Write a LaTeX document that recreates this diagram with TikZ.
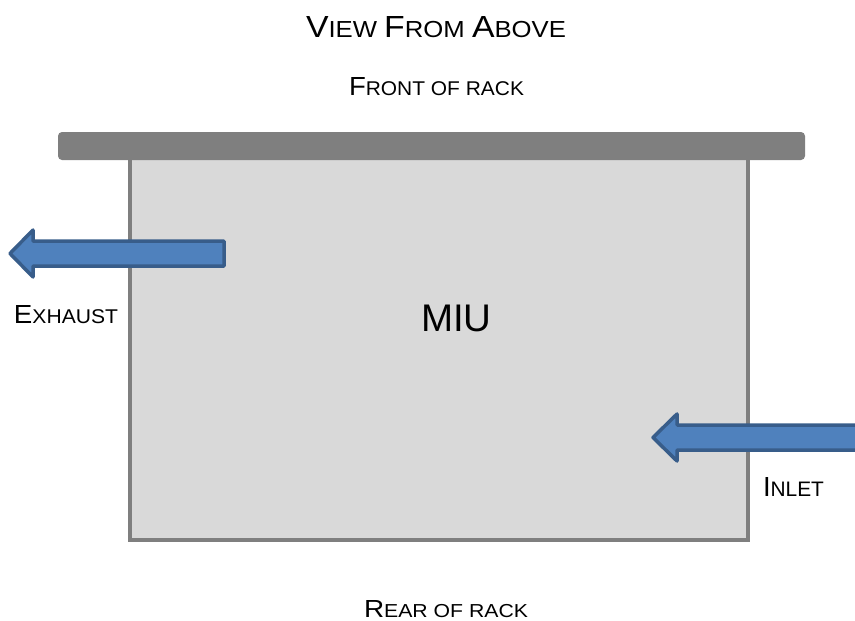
\documentclass[tikz,border=0pt]{standalone}
\usepackage{fontspec}
\setmainfont{Liberation Sans}
\usepackage{graphicx}
\definecolor{rackgray}{HTML}{7F7F7F}
\definecolor{miufill}{HTML}{D9D9D9}
\definecolor{arrowfill}{HTML}{4F81BD}
\definecolor{arrowline}{HTML}{385D8A}
\newcommand\scw[2]{{\fontsize{20}{20}\selectfont #1}{\fontsize{15.2}{15.2}\selectfont #2}}
\begin{document}
\begin{tikzpicture}[x=1pt,y=-1pt,
  lbl/.style={inner sep=0pt,outer sep=0pt,anchor=base west,font=\fontsize{15.2}{15.2}\selectfont},
  flow/.style={fill=arrowfill,draw=arrowline,line width=3.5pt,line join=round}]
\useasboundingbox (0,0) rectangle (855,621);
\clip (0,0) rectangle (855,621);
% MIU box
\draw[fill=miufill,draw=rackgray,line width=4pt] (130,150) rectangle (748,540);
% rack front bar
\fill[rackgray,rounded corners=4pt] (58,132) rectangle (805,160);
% arrows
\draw[flow] (224,241) -- (33,241) -- (33,230) -- (10,253.5) -- (33,277) -- (33,266) -- (224,266) -- cycle;
\draw[flow] (870,425) -- (677,425) -- (677,414) -- (653,437.5) -- (677,461) -- (677,450) -- (870,450);
% texts
\node[lbl] (title) at (306,37.3) {\resizebox{260pt}{21pt}{\scw{V}{IEW} \scw{F}{ROM} \scw{A}{BOVE}}};
\node[lbl] (front) at (349,95) {\resizebox{175pt}{18pt}{\scw{F}{RONT} OF RACK}};
\node[lbl] (rear) at (364,617) {\resizebox{164pt}{17pt}{\scw{R}{EAR} OF RACK}};
\node[lbl] (exhaust) at (14,323) {\resizebox{104pt}{18pt}{\scw{E}{XHAUST}}};
\node[lbl] (inlet) at (763,496) {\resizebox{61pt}{19pt}{\scw{I}{NLET}}};
\node[inner sep=0pt,anchor=base,font=\fontsize{38.5}{38.5}\selectfont] (miu) at (456.5,331.7) {MIU};
\end{tikzpicture}
\end{document}
